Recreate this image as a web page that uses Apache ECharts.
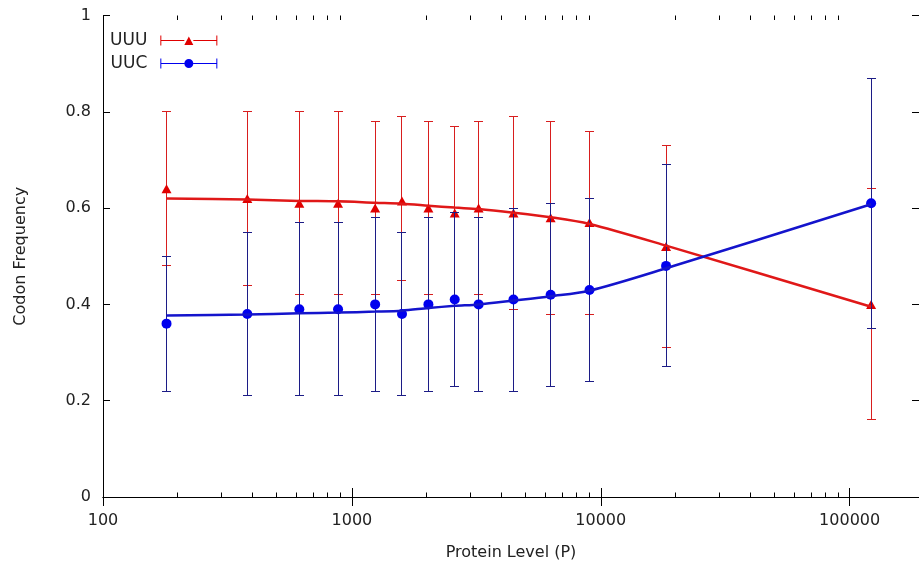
<!DOCTYPE html>
<html>
<head>
<meta charset="utf-8">
<script src="https://cdn.jsdelivr.net/npm/echarts@6/dist/echarts.min.js"></script>
<style>
html,body{margin:0;padding:0;background:#fff;}
#chart{width:919px;height:566px;}
</style>
</head>
<body>
<div id="chart"></div>
<script>
// ---- data ----
const proteinLevels = [180, 380, 615, 880, 1240, 1590, 2030, 2590, 3230, 4460, 6290, 9010, 18300, 122000];
const uuuValues = [0.64, 0.62, 0.61, 0.61, 0.60, 0.615, 0.60, 0.59, 0.60, 0.59, 0.58, 0.57, 0.52, 0.40];
const uuuLow    = [0.48, 0.44, 0.42, 0.42, 0.42, 0.45, 0.42, 0.41, 0.42, 0.39, 0.38, 0.38, 0.31, 0.16];
const uuuHigh   = [0.80, 0.80, 0.80, 0.80, 0.78, 0.79, 0.78, 0.77, 0.78, 0.79, 0.78, 0.76, 0.73, 0.64];
const uucValues = [0.36, 0.38, 0.39, 0.39, 0.40, 0.38, 0.40, 0.41, 0.40, 0.41, 0.42, 0.43, 0.48, 0.61];
const uucLow    = [0.22, 0.21, 0.21, 0.21, 0.22, 0.21, 0.22, 0.23, 0.22, 0.22, 0.23, 0.24, 0.27, 0.35];
const uucHigh   = [0.50, 0.55, 0.57, 0.57, 0.58, 0.55, 0.58, 0.59, 0.58, 0.60, 0.61, 0.62, 0.69, 0.87];
const uuuFit    = [0.620, 0.618, 0.615, 0.614, 0.611, 0.609, 0.605, 0.601, 0.598, 0.5905, 0.581, 0.567, 0.522, 0.395];
const uucFit    = [0.377, 0.379, 0.3815, 0.383, 0.385, 0.387, 0.3925, 0.397, 0.400, 0.408, 0.417, 0.4285, 0.475, 0.608];
const xTickLabels = ['100', '1000', '10000', '100000'];
const minorTickValues = [200, 300, 400, 500, 600, 700, 800, 900,
  2000, 3000, 4000, 5000, 6000, 7000, 8000, 9000,
  20000, 30000, 40000, 50000, 60000, 70000, 80000, 90000];
const xMin = 100, xMax = 190000;

// ---- styling ----
const FONT = 'DejaVu Sans';
const RED = '#e00000', RED_BAR = '#d81e1e', RED_LINE = '#e01818';
const BLUE = '#0000ee', BLUE_BAR = '#1c1c86', BLUE_LINE = '#1414cc';

function crisp(v) { return Math.round(v - 0.5) + 0.5; }

function errorBarRenderer(color) {
  return function (params, api) {
    const x = api.value(0);
    const lo = api.coord([x, api.value(1)]);
    const hi = api.coord([x, api.value(2)]);
    const cx = crisp(lo[0]);
    const ly = crisp(lo[1]), hy = crisp(hi[1]);
    const hw = 4.5;
    const st = { stroke: color, lineWidth: 1 };
    return {
      type: 'group',
      children: [
        { type: 'line', shape: { x1: cx, y1: ly, x2: cx, y2: hy }, style: st },
        { type: 'line', shape: { x1: cx - hw, y1: ly, x2: cx + hw, y2: ly }, style: st },
        { type: 'line', shape: { x1: cx - hw, y1: hy, x2: cx + hw, y2: hy }, style: st }
      ]
    };
  };
}

function minorTickRenderer(params, api) {
  const v = api.value(0);
  const b = api.coord([v, 0]);
  const t = api.coord([v, 1]);
  const x = crisp(b[0]);
  const len = 4.5;
  const st = { stroke: '#000', lineWidth: 1 };
  return {
    type: 'group',
    children: [
      { type: 'line', shape: { x1: x, y1: b[1], x2: x, y2: b[1] - len }, style: st },
      { type: 'line', shape: { x1: x, y1: t[1], x2: x, y2: t[1] + len }, style: st }
    ]
  };
}

const triIcon = 'path://M0,0H1V4.5H24V5.5H1V10H0Z M33,4.5H56V0H57V10H56V5.5H33Z M24,9.5L33,9.5L28.5,1Z';
const circIcon = 'path://M0,0H1V4.5H24V5.5H1V10H0Z M33,4.5H56V0H57V10H56V5.5H33Z M24,5A4.5,4.5 0 1,1 33,5A4.5,4.5 0 1,1 24,5Z';

const chart = echarts.init(document.getElementById('chart'), null, { renderer: 'canvas' });

const axisLineStyle = { show: true, lineStyle: { color: '#000', width: 1 } };

chart.setOption({
  animation: false,
  backgroundColor: '#fff',
  textStyle: { fontFamily: FONT },
  grid: { left: 103, right: -3, top: 15.5, bottom: 69, containLabel: false },
  legend: {
    orient: 'vertical',
    left: 105,
    top: 27,
    align: 'right',
    itemWidth: 57,
    itemHeight: 10,
    itemGap: 6,
    selectedMode: false,
    textStyle: { fontFamily: FONT, fontSize: 17, color: '#222', padding: [0, 8, 0, 0], lineHeight: 17 },
    data: [
      { name: 'UUU', icon: triIcon, itemStyle: { color: RED } },
      { name: 'UUC', icon: circIcon, itemStyle: { color: BLUE } }
    ]
  },
  xAxis: [
    {
      type: 'log', logBase: 10, min: xMin, max: xMax, position: 'bottom',
      name: 'Protein Level (P)', nameLocation: 'middle', nameGap: 48,
      nameTextStyle: { fontFamily: FONT, fontSize: 16, color: '#222' },
      axisLine: axisLineStyle,
      axisTick: { show: true, inside: true, length: 9, lineStyle: { color: '#000' } },
      axisLabel: {
        show: true, margin: 16, fontFamily: FONT, fontSize: 16, color: '#222',
        showMaxLabel: false,
        formatter: function (v) {
          const s = String(Math.round(v));
          return xTickLabels.indexOf(s) >= 0 ? s : '';
        }
      },
      splitLine: { show: false }, minorTick: { show: false }
    },
    {
      type: 'log', logBase: 10, min: xMin, max: xMax, position: 'top',
      axisLine: axisLineStyle,
      axisTick: { show: true, inside: true, length: 9, lineStyle: { color: '#000' } },
      axisLabel: { show: false },
      splitLine: { show: false }
    }
  ],
  yAxis: [
    {
      type: 'value', min: 0, max: 1, interval: 0.2, position: 'left',
      name: 'Codon Frequency', nameLocation: 'middle', nameGap: 74, nameRotate: 90,
      nameTextStyle: { fontFamily: FONT, fontSize: 16, color: '#222' },
      axisLine: axisLineStyle,
      axisTick: { show: true, inside: true, length: 7, lineStyle: { color: '#000' } },
      axisLabel: { show: true, margin: 12, fontFamily: FONT, fontSize: 16, color: '#222' },
      splitLine: { show: false }
    },
    {
      type: 'value', min: 0, max: 1, interval: 0.2, position: 'right',
      axisLine: axisLineStyle,
      axisTick: { show: true, inside: true, length: 7, lineStyle: { color: '#000' } },
      axisLabel: { show: false },
      splitLine: { show: false }
    }
  ],
  series: [
    {
      type: 'custom', name: 'minorTicks', silent: true, z: 1,
      xAxisIndex: 0, yAxisIndex: 0,
      renderItem: minorTickRenderer,
      encode: { x: 0, y: 1 },
      data: minorTickValues.map(v => [v, 0])
    },
    {
      type: 'custom', name: 'UUU error', silent: true, z: 2,
      renderItem: errorBarRenderer(RED_BAR),
      encode: { x: 0, y: [1, 2] },
      data: proteinLevels.map((x, i) => [x, uuuLow[i], uuuHigh[i]])
    },
    {
      type: 'scatter', name: 'UUU', z: 3,
      symbol: 'triangle', symbolSize: [10, 9],
      itemStyle: { color: RED, opacity: 1 },
      data: proteinLevels.map((x, i) => [x, uuuValues[i]])
    },
    {
      type: 'custom', name: 'UUC error', silent: true, z: 4,
      renderItem: errorBarRenderer(BLUE_BAR),
      encode: { x: 0, y: [1, 2] },
      data: proteinLevels.map((x, i) => [x, uucLow[i], uucHigh[i]])
    },
    {
      type: 'scatter', name: 'UUC', z: 5,
      symbol: 'circle', symbolSize: 10,
      itemStyle: { color: BLUE, opacity: 1 },
      data: proteinLevels.map((x, i) => [x, uucValues[i]])
    },
    {
      type: 'line', name: 'UUU fit', z: 6, smooth: 0.3,
      showSymbol: false, symbol: 'none',
      lineStyle: { color: RED_LINE, width: 2.5 },
      data: proteinLevels.map((x, i) => [x, uuuFit[i]])
    },
    {
      type: 'line', name: 'UUC fit', z: 7, smooth: 0.3,
      showSymbol: false, symbol: 'none',
      lineStyle: { color: BLUE_LINE, width: 2.5 },
      data: proteinLevels.map((x, i) => [x, uucFit[i]])
    }
  ]
});
</script>
</body>
</html>
